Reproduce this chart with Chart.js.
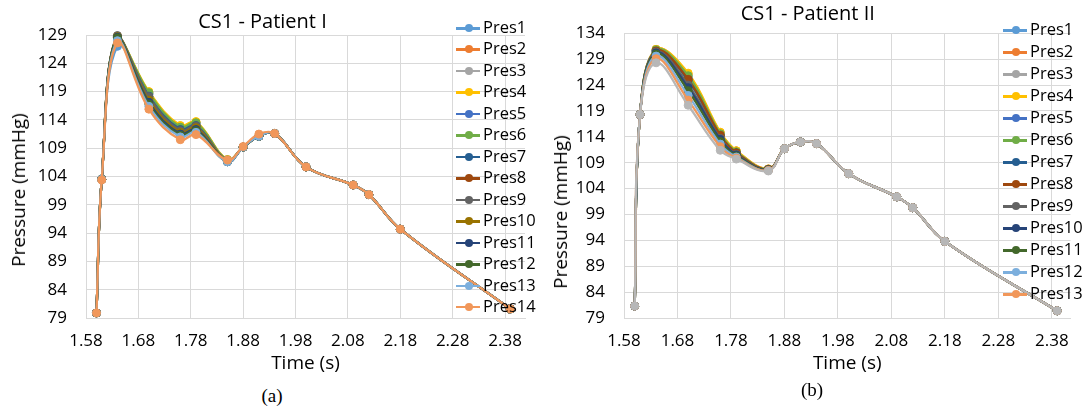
<!DOCTYPE html>
<html>
<head>
<meta charset="utf-8">
<script src="https://cdn.jsdelivr.net/npm/chart.js@4.4.1/dist/chart.umd.min.js"></script>
<style>
  body { margin: 0; width: 1091px; height: 409px; background: #fff; position: relative; overflow: hidden; font-family: "Open Sans", sans-serif; }
  .box { position: absolute; top: 0; }
  .ytitle { position: absolute; transform: translate(-50%, -50%) rotate(-90deg); white-space: nowrap; font-size: 19px; color: #000; }
  .caption { position: absolute; transform: translate(-50%, -50%); font-family: "Liberation Serif", "Times New Roman", serif; font-size: 19px; color: #000; }
  .legend { position: absolute; }
  .legend .item { position: absolute; height: 20px; white-space: nowrap; font-size: 16.5px; color: #000; }
  .legend .line { position: absolute; top: 9px; width: 24px; height: 2.5px; }
  .legend .dot { position: absolute; top: 6px; left: 8.5px; width: 8px; height: 8px; border-radius: 50%; }
  .legend .txt { position: absolute; left: 27px; top: -3px; line-height: 24px; }
</style>
</head>
<body>

<div class="box" style="left:0"><canvas id="chartA" width="545" height="380"></canvas></div>
<div class="box" style="left:545px"><canvas id="chartB" width="546" height="380"></canvas></div>

<div class="ytitle" style="left:18px; top:190px">Pressure (mmHg)</div>
<div class="ytitle" style="left:560px; top:212px">Pressure (mmHg)</div>

<div class="legend" id="legendA" style="left:456px; top:18px"></div>
<div class="legend" id="legendB" style="left:1003px; top:20px"></div>

<div class="caption" style="left:272px; top:396px">(a)</div>
<div class="caption" style="left:812px; top:390px">(b)</div>

<script>
// time points (s), shared by both patients
const times = [1.60, 1.61, 1.64, 1.70, 1.76, 1.79, 1.85, 1.88, 1.91, 1.94, 2.00, 2.09, 2.12, 2.18, 2.39];

const xTicks = [1.58, 1.68, 1.78, 1.88, 1.98, 2.08, 2.18, 2.28, 2.38];
const yTicksA = [79, 84, 89, 94, 99, 104, 109, 114, 119, 124, 129];
const yTicksB = [79, 84, 89, 94, 99, 104, 109, 114, 119, 124, 129, 134];

const namesA = ['Pres1', 'Pres2', 'Pres3', 'Pres4', 'Pres5', 'Pres6', 'Pres7', 'Pres8', 'Pres9', 'Pres10', 'Pres11', 'Pres12', 'Pres13', 'Pres14'];
const colorsA = ['#5B9BD5', '#ED7D31', '#A5A5A5', '#FFC000', '#4472C4', '#70AD47', '#255E91', '#9E480E', '#636363', '#997300', '#264478', '#43682B', '#7CAFDD', '#F1975A'];

// Patient I pressures (mmHg)
const pres1A  = [79.9, 103.5, 127.0, 118.6, 112.6, 113.4, 106.9, 109.2, 111.1, 111.6, 105.7, 102.5, 100.8, 94.7, 80.6];
const pres2A  = [79.9, 103.5, 128.6, 118.7, 112.8, 113.5, 106.9, 109.2, 111.1, 111.6, 105.7, 102.5, 100.8, 94.7, 80.6];
const pres3A  = [79.9, 103.5, 128.7, 118.9, 112.9, 113.6, 107.0, 109.2, 111.1, 111.6, 105.7, 102.5, 100.8, 94.7, 80.6];
const pres4A  = [79.9, 103.5, 128.8, 119.0, 113.0, 113.7, 107.0, 109.2, 111.1, 111.6, 105.7, 102.5, 100.8, 94.7, 80.6];
const pres5A  = [79.9, 103.5, 128.6, 118.5, 112.6, 113.3, 106.9, 109.2, 111.1, 111.6, 105.7, 102.5, 100.8, 94.7, 80.6];
const pres6A  = [79.9, 103.5, 128.7, 118.8, 112.7, 113.5, 106.9, 109.2, 111.1, 111.6, 105.7, 102.5, 100.8, 94.7, 80.6];
const pres7A  = [79.9, 103.5, 128.7, 118.2, 112.3, 113.0, 106.8, 109.2, 111.1, 111.6, 105.7, 102.5, 100.8, 94.7, 80.6];
const pres8A  = [79.9, 103.5, 128.6, 117.8, 112.0, 112.8, 106.8, 109.2, 111.1, 111.6, 105.7, 102.5, 100.8, 94.7, 80.6];
const pres9A  = [79.9, 103.5, 128.9, 118.1, 112.1, 112.9, 106.7, 109.2, 111.1, 111.6, 105.7, 102.5, 100.8, 94.7, 80.6];
const pres10A = [79.9, 103.5, 128.7, 117.5, 111.8, 112.6, 106.7, 109.2, 111.1, 111.6, 105.7, 102.5, 100.8, 94.7, 80.6];
const pres11A = [79.9, 103.5, 128.6, 117.1, 111.5, 112.3, 106.6, 109.2, 111.1, 111.6, 105.7, 102.5, 100.8, 94.7, 80.6];
const pres12A = [79.9, 103.5, 128.5, 116.8, 111.3, 112.1, 106.6, 109.2, 111.1, 111.6, 105.7, 102.5, 100.8, 94.7, 80.6];
const pres13A = [79.9, 103.5, 128.0, 116.4, 111.0, 111.8, 106.6, 109.2, 111.1, 111.6, 105.7, 102.5, 100.8, 94.7, 80.6];
const pres14A = [79.9, 103.4, 127.6, 115.9, 110.5, 111.4, 106.9, 109.3, 111.5, 111.6, 105.7, 102.5, 100.8, 94.7, 80.6];
const valuesA = [pres1A, pres2A, pres3A, pres4A, pres5A, pres6A, pres7A, pres8A, pres9A, pres10A, pres11A, pres12A, pres13A, pres14A];

// Patient II: legend only lists 13 entries, a 14th light grey series is drawn on top
const namesB = ['Pres1', 'Pres2', 'Pres3', 'Pres4', 'Pres5', 'Pres6', 'Pres7', 'Pres8', 'Pres9', 'Pres10', 'Pres11', 'Pres12', 'Pres13', 'Pres14'];
const colorsB = ['#5B9BD5', '#ED7D31', '#A5A5A5', '#FFC000', '#4472C4', '#70AD47', '#255E91', '#9E480E', '#636363', '#264478', '#43682B', '#7CAFDD', '#F1975A', '#B7B7B7'];
const legendCountB = 13;

const pres1B  = [81.3, 118.3, 130.6, 125.6, 114.6, 111.1, 107.7, 111.7, 113.0, 112.7, 106.9, 102.4, 100.3, 93.8, 80.4];
const pres2B  = [81.3, 118.3, 130.9, 126.1, 114.8, 111.3, 107.8, 111.7, 113.0, 112.7, 106.9, 102.4, 100.3, 93.8, 80.4];
const pres3B  = [81.3, 118.3, 130.2, 124.4, 113.9, 110.7, 107.7, 111.7, 113.0, 112.7, 106.9, 102.4, 100.3, 93.8, 80.4];
const pres4B  = [81.3, 118.3, 130.9, 126.3, 114.9, 111.3, 107.8, 111.7, 113.0, 112.7, 106.9, 102.4, 100.3, 93.8, 80.4];
const pres5B  = [81.3, 118.3, 130.7, 125.3, 114.4, 111.0, 107.7, 111.7, 113.0, 112.7, 106.9, 102.4, 100.3, 93.8, 80.4];
const pres6B  = [81.3, 118.3, 130.8, 125.8, 114.6, 111.1, 107.7, 111.7, 113.0, 112.7, 106.9, 102.4, 100.3, 93.8, 80.4];
const pres7B  = [81.3, 118.3, 130.5, 124.9, 114.2, 110.9, 107.7, 111.7, 113.0, 112.7, 106.9, 102.4, 100.3, 93.8, 80.4];
const pres8B  = [81.3, 118.3, 130.6, 125.1, 114.3, 110.9, 107.7, 111.7, 113.0, 112.7, 106.9, 102.4, 100.3, 93.8, 80.4];
const pres9B  = [81.3, 118.3, 130.4, 124.0, 113.7, 110.6, 107.6, 111.7, 113.0, 112.7, 106.9, 102.4, 100.3, 93.8, 80.4];
const pres10B = [81.3, 118.3, 130.2, 123.5, 113.5, 110.5, 107.6, 111.7, 113.0, 112.7, 106.9, 102.4, 100.3, 93.8, 80.4];
const pres11B = [81.3, 118.3, 130.0, 122.9, 113.1, 110.3, 107.6, 111.7, 113.0, 112.7, 106.9, 102.4, 100.3, 93.8, 80.4];
const pres12B = [81.3, 118.3, 129.6, 122.0, 112.6, 110.1, 107.5, 111.7, 113.0, 112.7, 106.9, 102.4, 100.3, 93.8, 80.4];
const pres13B = [81.3, 118.3, 129.1, 121.1, 112.1, 109.9, 107.5, 111.7, 113.0, 112.7, 106.9, 102.4, 100.3, 93.8, 80.4];
const pres14B = [81.3, 118.3, 128.3, 120.1, 111.4, 109.7, 107.4, 111.7, 113.0, 112.7, 106.9, 102.4, 100.3, 93.8, 80.4];
const valuesB = [pres1B, pres2B, pres3B, pres4B, pres5B, pres6B, pres7B, pres8B, pres9B, pres10B, pres11B, pres12B, pres13B, pres14B];

const FONT = '"Open Sans", sans-serif';
const GRID = '#D9D9D9';

function makeDatasets(names, colors, values) {
    return names.map((name, i) => ({
        label: name,
        data: times.map((t, j) => ({ x: t, y: values[i][j] })),
        borderColor: colors[i],
        backgroundColor: colors[i],
        borderWidth: 2.25,
        pointRadius: 4,
        pointBorderWidth: 1,
        pointBackgroundColor: colors[i],
        pointBorderColor: colors[i],
        tension: 0.4,
        clip: false,
        // last series ends up on top, like Excel
        order: names.length - i
    }));
}

function makeChart(id, cfg) {
    const ctx = document.getElementById(id).getContext('2d');
    return new Chart(ctx, {
        type: 'line',
        data: { datasets: makeDatasets(cfg.names, cfg.colors, cfg.values) },
        options: {
            responsive: false,
            animation: false,
            devicePixelRatio: 1,
            layout: { padding: { left: 0, top: 0, right: cfg.padRight, bottom: 0 } },
            plugins: {
                legend: { display: false },
                tooltip: { enabled: false },
                title: {
                    display: true,
                    text: cfg.title,
                    color: '#000',
                    font: { family: FONT, size: 20, weight: 'normal' },
                    padding: { top: cfg.titleTop, bottom: cfg.titleBottom }
                }
            },
            scales: {
                x: {
                    type: 'linear',
                    min: 1.58,
                    max: cfg.xMax,
                    afterBuildTicks: s => { s.ticks = xTicks.map(v => ({ value: v })); },
                    afterFit: s => { s.height = 62; },
                    grid: { color: GRID, lineWidth: 1, drawTicks: false },
                    border: { color: GRID },
                    ticks: {
                        color: '#000',
                        padding: 13,
                        maxRotation: 0,
                        autoSkip: false,
                        font: { family: FONT, size: 17 },
                        callback: v => v.toFixed(2)
                    },
                    title: {
                        display: true,
                        text: 'Time (s)',
                        color: '#000',
                        font: { family: FONT, size: 19 },
                        padding: { top: 0, bottom: 5 }
                    }
                },
                y: {
                    type: 'linear',
                    min: cfg.yTicks[0],
                    max: cfg.yTicks[cfg.yTicks.length - 1],
                    afterBuildTicks: s => { s.ticks = cfg.yTicks.map(v => ({ value: v })); },
                    afterFit: s => { s.width = cfg.yWidth; },
                    grid: { color: GRID, lineWidth: 1, drawTicks: false },
                    border: { color: GRID },
                    ticks: {
                        color: '#000',
                        padding: 19,
                        autoSkip: false,
                        font: { family: FONT, size: 17 },
                        callback: v => v
                    }
                }
            }
        }
    });
}

function buildLegend(id, names, colors, count, step) {
    const box = document.getElementById(id);
    for (let i = 0; i < count; i++) {
        const item = document.createElement('div');
        item.className = 'item';
        item.style.top = (i * step) + 'px';
        item.innerHTML = '<div class="line" style="background:' + colors[i] + '"></div>' +
            '<div class="dot" style="background:' + colors[i] + '"></div>' +
            '<div class="txt">' + names[i] + '</div>';
        box.appendChild(item);
    }
}

makeChart('chartA', {
    names: namesA, colors: colorsA, values: valuesA, yTicks: yTicksA,
    title: 'CS1 - Patient I', titleTop: 10.5, titleBottom: 0.5,
    xMax: 2.418, yWidth: 86, padRight: 20
});
makeChart('chartB', {
    names: namesB, colors: colorsB, values: valuesB, yTicks: yTicksB,
    title: 'CS1 - Patient II', titleTop: 2, titleBottom: 7.3,
    xMax: 2.415, yWidth: 79, padRight: 20.5
});

buildLegend('legendA', namesA, colorsA, namesA.length, 21.46);
buildLegend('legendB', namesB, colorsB, legendCountB, 22.0);
</script>
</body>
</html>
